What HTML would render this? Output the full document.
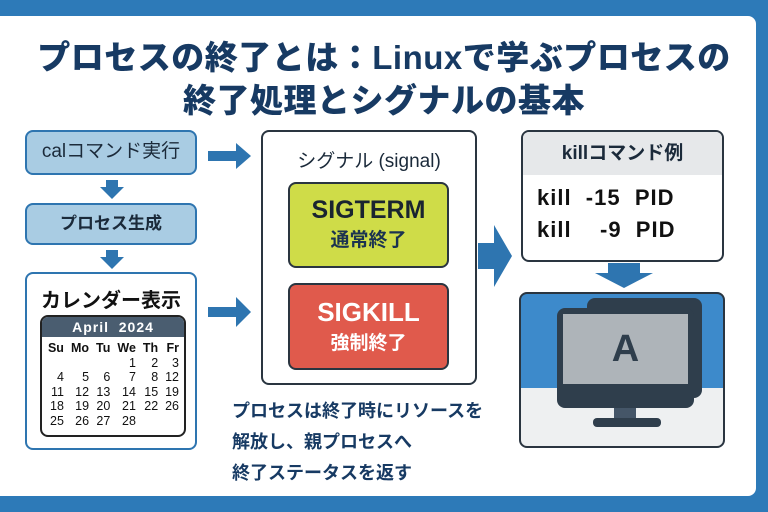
<!DOCTYPE html>
<html><head><meta charset="utf-8"><style>
*{margin:0;padding:0;box-sizing:border-box}
body{width:768px;height:512px;background:#2d7ab8;position:relative;overflow:hidden;font-family:"Liberation Sans","Noto Sans CJK JP",sans-serif;font-weight:bold;color:#1b3350}
.card{position:absolute;left:0;top:16px;width:756px;height:480px;background:#fff;border-radius:0 8px 8px 0}
.a{position:absolute}
.t{position:absolute;left:0;width:768px;text-align:center;font-size:33px;color:#173a63;font-weight:900;letter-spacing:0.5px}
.box{position:absolute;border-radius:8px}
.cal td{font-size:12.5px;text-align:right;padding:0 3px;line-height:14.5px;color:#111;font-weight:normal}
</style></head><body>
<div class="card"></div>
<div class="t" style="top:31px">プロセスの終了とは：Linuxで学ぶプロセスの</div>
<div class="t" style="top:74px">終了処理とシグナルの基本</div>

<div class="box" style="left:25px;top:130px;width:172px;height:45px;background:#a9cce3;border:2.5px solid #2e75b0;font-size:19px;font-weight:normal;color:#1b2a3a;text-align:center;line-height:40px">calコマンド実行</div>
<div class="box" style="left:25px;top:203px;width:172px;height:42px;background:#a9cce3;border:2.5px solid #2e75b0;font-size:17px;color:#1b2a3a;text-align:center;line-height:37px">プロセス生成</div>
<div class="box" style="left:25px;top:272px;width:172px;height:178px;background:#fff;border:2.5px solid #2e75b0"></div>
<div class="a" style="left:25px;top:284px;width:172px;text-align:center;font-size:20px;color:#111">カレンダー表示</div>
<div class="box" style="left:40px;top:315px;width:146px;height:122px;border:2px solid #222;background:#fff;overflow:hidden">
<div style="background:#4a5d70;color:#fff;text-align:center;font-size:14px;height:20px;line-height:20px;letter-spacing:1px">April&nbsp; 2024</div>
<table class="cal" style="border-collapse:collapse;margin:4px 0 0 2px;width:138px">
<tr><td style="font-weight:bold">Su</td><td style="font-weight:bold">Mo</td><td style="font-weight:bold">Tu</td><td style="font-weight:bold">We</td><td style="font-weight:bold">Th</td><td style="font-weight:bold">Fr</td></tr>
<tr><td></td><td></td><td></td><td>1</td><td>2</td><td>3</td></tr>
<tr><td>4</td><td>5</td><td>6</td><td>7</td><td>8</td><td>12</td></tr>
<tr><td>11</td><td>12</td><td>13</td><td>14</td><td>15</td><td>19</td></tr>
<tr><td>18</td><td>19</td><td>20</td><td>21</td><td>22</td><td>26</td></tr>
<tr><td>25</td><td>26</td><td>27</td><td>28</td><td></td><td></td></tr>
</table></div>

<svg class="a" style="left:0;top:0" width="768" height="512">
<g fill="#2e75b0">
<polygon points="106,180 118,180 118,187 124,187 112,199 100,187 106,187"/>
<polygon points="106,250 118,250 118,257 124,257 112,269 100,257 106,257"/>
<polygon points="208,151 236,151 236,143 251,156 236,169 236,161 208,161"/>
<polygon points="208,307 236,307 236,297 251,312 236,327 236,317 208,317"/>
<polygon points="478,243 494,243 494,225 512,256 494,287 494,269 478,269"/>
<polygon points="608,263 640,263 640,273 653,273 624,288 595,273 608,273"/>
</g>
</svg>

<div class="box" style="left:261px;top:130px;width:216px;height:255px;border:2.5px solid #2a3540;background:#fff"></div>
<div class="a" style="left:261px;top:146px;width:216px;text-align:center;font-size:19px;font-weight:normal;color:#1b2a3a">シグナル (signal)</div>
<div class="box" style="left:288px;top:182px;width:161px;height:86px;background:#cfdc48;border:2.5px solid #2a3540;text-align:center">
<div style="font-size:25px;color:#1a2430;margin-top:12px">SIGTERM</div><div style="font-size:19px;color:#1b3350">通常終了</div></div>
<div class="box" style="left:288px;top:283px;width:161px;height:87px;background:#e05a4c;border:2.5px solid #2a3540;text-align:center;color:#fff">
<div style="font-size:26px;margin-top:12px">SIGKILL</div><div style="font-size:19px">強制終了</div></div>
<div class="a" style="left:232px;top:396px;font-size:18px;line-height:31px;color:#173a63">プロセスは終了時にリソースを<br>解放し、親プロセスへ<br>終了ステータスを返す</div>

<div class="box" style="left:521px;top:130px;width:203px;height:132px;border:2.5px solid #2a3540;background:#fff;overflow:hidden">
<div style="background:#e6e8ea;height:43px;text-align:center;font-size:19px;line-height:43px;color:#1b2a3a">killコマンド例</div>
<div style="font-size:22px;color:#111;padding-left:14px;line-height:32px;margin-top:7px;white-space:pre;letter-spacing:1px">kill  -15  PID
kill    -9  PID</div></div>

<div class="box" style="left:519px;top:292px;width:206px;height:156px;border:2.5px solid #2a3540;overflow:hidden;background:linear-gradient(#3d8acb 0,#3d8acb 62%,#eef0f1 62%)">
<div class="a" style="left:66px;top:4px;width:115px;height:100px;background:#2f3e4c;border-radius:8px"></div>
<div class="a" style="left:36px;top:14px;width:137px;height:100px;background:#2f3e4c;border-radius:8px"></div>
<div class="a" style="left:42px;top:20px;width:125px;height:70px;background:#aeb4b9;text-align:center;font-size:38px;color:#2f3e4c;line-height:70px">A</div>
<div class="a" style="left:93px;top:114px;width:22px;height:12px;background:#455668"></div>
<div class="a" style="left:72px;top:124px;width:68px;height:9px;background:#2f3e4c;border-radius:4px"></div>
</div>
</body></html>
